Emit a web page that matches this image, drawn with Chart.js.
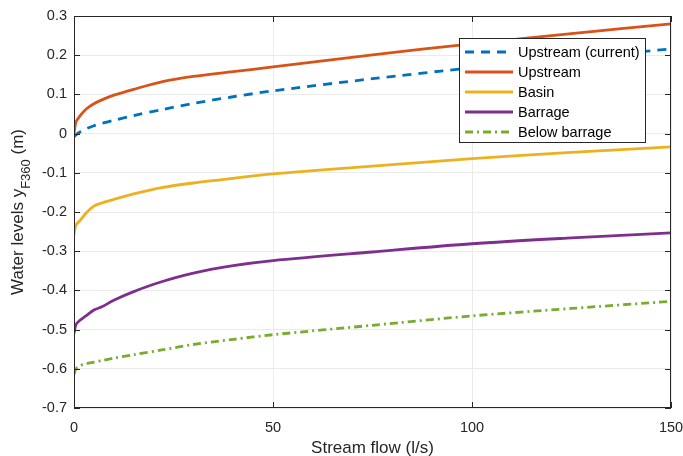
<!DOCTYPE html>
<html>
<head>
<meta charset="utf-8">
<script src="https://cdn.jsdelivr.net/npm/chart.js@4"></script>
<style>
  html, body { margin: 0; padding: 0; background: #fff; }
  #wrap { width: 683px; height: 456px; position: relative; }
</style>
</head>
<body>
<div id="wrap"><canvas id="levels"></canvas></div>
<script>
// stream flow (l/s)
const flow = [0, 0.5, 1.5, 3, 5, 7, 10, 15, 22, 30, 40, 50, 75, 100, 125, 150];

// water levels (m)
const upstreamCurrent = [-0.008, -0.003, 0.004, 0.012, 0.02, 0.026, 0.034, 0.046, 0.061, 0.077, 0.094, 0.109, 0.14, 0.168, 0.193, 0.216];
const upstream = [0, 0.03, 0.045, 0.062, 0.076, 0.086, 0.098, 0.113, 0.132, 0.146, 0.158, 0.17, 0.201, 0.229, 0.255, 0.28];
const basin = [-0.257, -0.233, -0.222, -0.203, -0.185, -0.177, -0.168, -0.154, -0.138, -0.126, -0.114, -0.103, -0.083, -0.064, -0.048, -0.034];
const barrage = [-0.51, -0.487, -0.476, -0.465, -0.45, -0.442, -0.425, -0.403, -0.378, -0.356, -0.337, -0.324, -0.302, -0.281, -0.266, -0.253];
const belowBarrage = [-0.614, -0.6, -0.592, -0.587, -0.583, -0.579, -0.573, -0.564, -0.552, -0.538, -0.525, -0.513, -0.489, -0.465, -0.446, -0.428];

const xTicks = [0, 50, 100, 150];
const yTicks = [0.3, 0.2, 0.1, 0, -0.1, -0.2, -0.3, -0.4, -0.5, -0.6, -0.7];

const FONT = '"Liberation Sans", Arial, Helvetica, sans-serif';
const AXIS = '#262626';

function pts(ys) {
    return flow.map((x, i) => ({ x: x, y: ys[i] }));
}

const series = [
    { label: 'Upstream (current)', data: upstreamCurrent, color: '#0072BD', dash: [9, 7] },
    { label: 'Upstream', data: upstream, color: '#D95319', dash: [] },
    { label: 'Basin', data: basin, color: '#EDB120', dash: [] },
    { label: 'Barrage', data: barrage, color: '#7E2F8E', dash: [] },
    { label: 'Below barrage', data: belowBarrage, color: '#77AC30', dash: [8, 4, 2, 4] }
];

// box, inward ticks, axis titles and legend like the original figure
const decor = {
    id: 'decor',
    afterDraw(chart) {
        const ctx = chart.ctx;
        const a = chart.chartArea;
        const xs = chart.scales.x, ys = chart.scales.y;
        ctx.save();
        ctx.strokeStyle = AXIS;
        ctx.lineWidth = 1;
        ctx.setLineDash([]);
        ctx.strokeRect(a.left + 0.5, a.top + 0.5, a.right - a.left - 1, a.bottom - a.top - 1);
        ctx.beginPath();
        xTicks.forEach(v => {
            const px = Math.round(xs.getPixelForValue(v)) + 0.5;
            ctx.moveTo(px, a.bottom); ctx.lineTo(px, a.bottom - 6);
            ctx.moveTo(px, a.top); ctx.lineTo(px, a.top + 6);
        });
        yTicks.forEach(v => {
            const py = Math.round(ys.getPixelForValue(v)) + 0.5;
            ctx.moveTo(a.left, py); ctx.lineTo(a.left + 6, py);
            ctx.moveTo(a.right, py); ctx.lineTo(a.right - 6, py);
        });
        ctx.stroke();

        // x title
        ctx.fillStyle = AXIS;
        ctx.font = '17px ' + FONT;
        ctx.textAlign = 'center';
        ctx.textBaseline = 'middle';
        ctx.fillText('Stream flow (l/s)', (a.left + a.right) / 2, 448);

        // y title with subscript
        ctx.save();
        ctx.translate(18, 212);
        ctx.rotate(-Math.PI / 2);
        const t1 = 'Water levels y', sub = 'F360', t2 = ' (m)';
        ctx.font = '17px ' + FONT;
        const w1 = ctx.measureText(t1).width, w3 = ctx.measureText(t2).width;
        ctx.font = '13px ' + FONT;
        const w2 = ctx.measureText(sub).width;
        let x0 = -(w1 + w2 + w3) / 2;
        ctx.textAlign = 'left';
        ctx.font = '17px ' + FONT;
        ctx.fillText(t1, x0, 0);
        ctx.font = '13px ' + FONT;
        ctx.fillText(sub, x0 + w1, 8);
        ctx.font = '17px ' + FONT;
        ctx.fillText(t2, x0 + w1 + w2, 0);
        ctx.restore();

        // legend
        const lx = 459.5, ly = 38.5, lw = 186, lh = 104;
        ctx.fillStyle = '#fff';
        ctx.fillRect(lx, ly, lw, lh);
        ctx.strokeStyle = AXIS;
        ctx.strokeRect(lx, ly, lw, lh);
        ctx.font = '14.5px ' + FONT;
        ctx.textAlign = 'left';
        ctx.textBaseline = 'middle';
        series.forEach((s, i) => {
            const yy = 52 + i * 20;
            ctx.strokeStyle = s.color;
            ctx.lineWidth = 2.8;
            ctx.setLineDash(s.dash);
            ctx.beginPath();
            ctx.moveTo(465, yy); ctx.lineTo(513, yy);
            ctx.stroke();
            ctx.setLineDash([]);
            ctx.fillStyle = '#000';
            ctx.fillText(s.label, 518, yy + 1);
        });
        ctx.restore();
    }
};

new Chart(document.getElementById('levels'), {
    type: 'line',
    data: {
        datasets: series.map(s => ({
            label: s.label,
            data: pts(s.data),
            borderColor: s.color,
            borderWidth: 2.8,
            borderDash: s.dash,
            pointRadius: 0,
            tension: 0.3,
            fill: false
        }))
    },
    options: {
        responsive: true,
        maintainAspectRatio: false,
        animation: false,
        layout: { padding: { top: 16, right: 12, left: 0, bottom: 0 } },
        plugins: { legend: { display: false }, tooltip: { enabled: false } },
        scales: {
            x: {
                type: 'linear',
                min: 0, max: 150,
                afterBuildTicks: s => { s.ticks = xTicks.map(v => ({ value: v })); },
                afterFit: s => { s.height = 48; s.paddingLeft = 0; s.paddingRight = 0; },
                border: { display: false },
                grid: { color: '#ebebeb', drawTicks: false },
                ticks: { color: AXIS, font: { family: FONT, size: 14.5 }, padding: 11 }
            },
            y: {
                min: -0.7, max: 0.3,
                afterBuildTicks: s => { s.ticks = yTicks.map(v => ({ value: v })); },
                afterFit: s => { s.width = 74; s.paddingTop = 0; s.paddingBottom = 0; },
                border: { display: false },
                grid: { color: '#ebebeb', drawTicks: false },
                ticks: {
                    color: AXIS, font: { family: FONT, size: 14.5 }, padding: 7,
                    callback: v => String(Math.round(v * 10) / 10)
                }
            }
        }
    },
    plugins: [decor]
});
</script>
</body>
</html>
